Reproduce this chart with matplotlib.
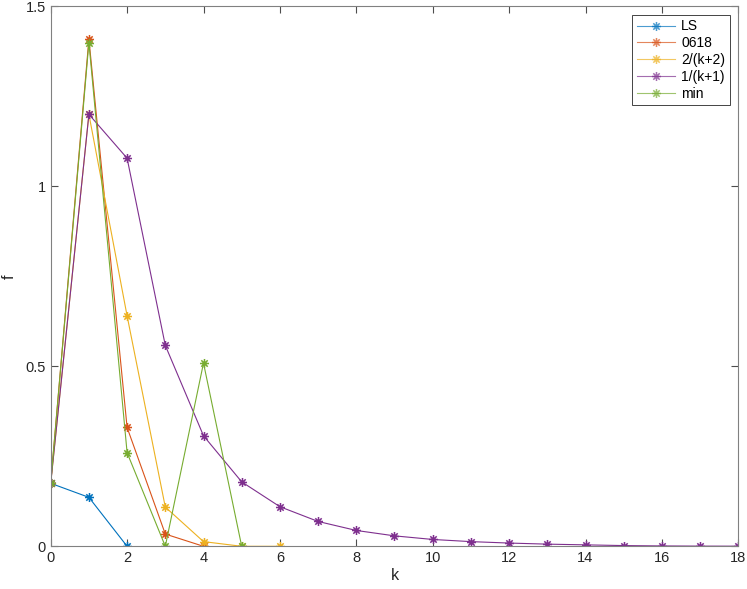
import matplotlib.pyplot as plt
from matplotlib.path import Path
import numpy as np

plt.rcParams['font.family'] = ['Liberation Sans', 'DejaVu Sans']

# iteration index and objective values for each step-size rule
k_ls = [0, 1, 2]
f_ls = [0.175, 0.136, 0.0]

k_0618 = [0, 1, 2, 3, 4]
f_0618 = [0.175, 1.409, 0.33, 0.034, 0.0]

k_2k2 = [0, 1, 2, 3, 4, 5, 6]
f_2k2 = [0.175, 1.2, 0.64, 0.109, 0.013, 0.0, 0.0]

k_1k1 = list(range(19))
f_1k1 = [0.175, 1.2, 1.078, 0.558, 0.307, 0.179, 0.11, 0.069, 0.044, 0.029,
         0.019, 0.013, 0.009, 0.006, 0.004, 0.002, 0.001, 0.0005, 0.0003]

k_min = [0, 1, 2, 3, 4, 5]
f_min = [0.175, 1.399, 0.26, 0.0, 0.509, 0.0]

labels = ['LS', '0618', '2/(k+2)', '1/(k+1)', 'min']
colors = ['#0072BD', '#D95319', '#EDB120', '#7E2F8E', '#77AC30']
series = [(k_ls, f_ls), (k_0618, f_0618), (k_2k2, f_2k2), (k_1k1, f_1k1), (k_min, f_min)]

# matlab-like asterisk: plus + cross
verts, codes = [], []
for a in np.deg2rad([0, 45, 90, 135]):
    verts += [(-np.cos(a), -np.sin(a)), (np.cos(a), np.sin(a))]
    codes += [Path.MOVETO, Path.LINETO]
asterisk = Path(verts, codes)

fig = plt.figure(figsize=(7.47, 5.89), dpi=100)
ax = fig.add_axes([50.7/747, (589-546.3)/589, (738.3-50.7)/747, 540/589])

for (kk, ff), lab, c in zip(series, labels, colors):
    ax.plot(kk, ff, color=c, marker=asterisk, markersize=6.5, linewidth=0.8,
            markeredgewidth=1.1, markerfacecolor='none', label=lab)

ax.set_xlim(0, 18)
ax.set_ylim(0, 1.5)
ax.set_xticks(np.arange(0, 19, 2))
ax.set_yticks([0, 0.5, 1, 1.5])
ax.set_yticklabels(['0', '0.5', '1', '1.5'])
ax.tick_params(direction='in', top=True, right=True, labelsize=10.5,
               color='#4d4d4d', length=5, width=0.8, labelcolor='#262626')
for s in ax.spines.values():
    s.set_color('#808080')
    s.set_linewidth(0.8)
ax.set_xlabel('k', fontsize=11.5, color='#262626', labelpad=2)
ax.set_ylabel('f', fontsize=11.5, color='#262626', labelpad=6)

leg = ax.legend(loc='upper right', fontsize=10, fancybox=False,
                edgecolor='#262626', framealpha=1, borderaxespad=0.6,
                borderpad=0.35, handlelength=2.7, handletextpad=0.45,
                labelspacing=0.2)
leg.get_frame().set_linewidth(0.6)
for ln in leg.get_lines():
    ln.set_alpha(0.7)

plt.savefig('out.png', dpi=100)
